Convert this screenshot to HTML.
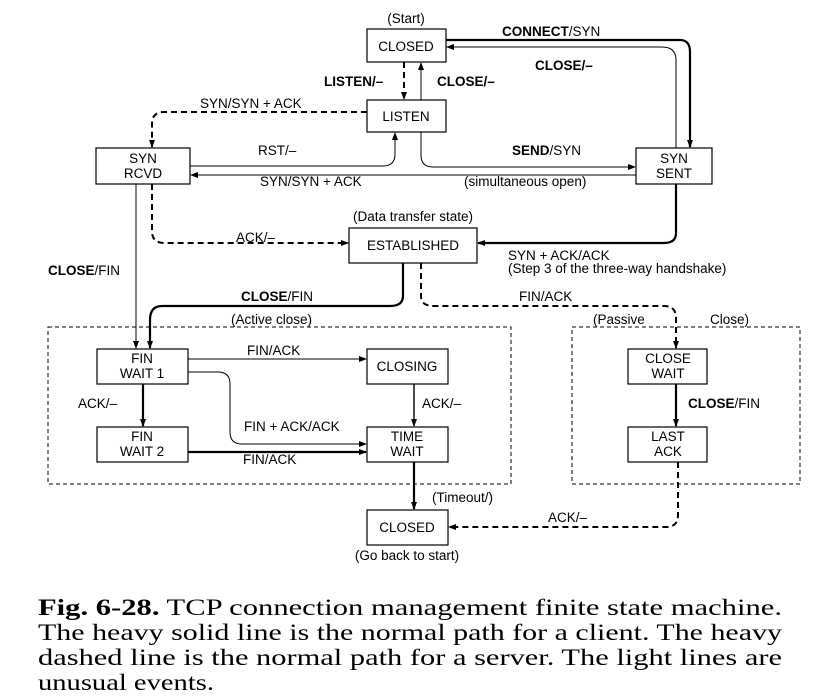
<!DOCTYPE html>
<html><head><meta charset="utf-8"><style>
body{margin:0;background:#fff;}
svg{display:block;}
.s{font-family:"Liberation Sans",sans-serif;font-size:13.5px;fill:#000;}
.b{font-weight:bold;}
.c{font-family:"Liberation Serif",serif;font-size:23px;fill:#000;}
</style></head><body>
<svg width="818" height="697" viewBox="0 0 818 697" xmlns="http://www.w3.org/2000/svg">
<defs>
<marker id="a" markerWidth="8" markerHeight="8" refX="7" refY="4" orient="auto" markerUnits="userSpaceOnUse"><path d="M0,1 L8,4 L0,7 z" fill="#000"/></marker>
</defs>
<g fill="#fff" stroke="#000" stroke-width="1.2">
<rect x="367" y="29" width="79" height="33"/>
<rect x="367" y="100" width="79" height="32"/>
<rect x="96" y="148" width="94" height="36"/>
<rect x="636" y="148" width="76" height="36"/>
<rect x="349" y="228" width="128" height="35"/>
<rect x="97" y="349" width="91" height="35"/>
<rect x="367" y="349" width="81" height="35"/>
<rect x="97" y="427" width="91" height="35"/>
<rect x="367" y="427" width="81" height="35"/>
<rect x="628" y="349" width="79" height="35"/>
<rect x="628" y="427" width="79" height="35"/>
<rect x="367" y="510" width="81" height="35"/>
</g>
<g fill="none" stroke="#000" stroke-width="1" stroke-dasharray="4,3">
<rect x="48" y="327" width="463" height="157"/>
<rect x="572" y="327" width="228" height="157"/>
</g>
<g fill="none" stroke="#000" stroke-width="2.2" marker-end="url(#a)">
<path d="M446,40 H680 Q690,40 690,52 V147"/>
<path d="M676,184 V233 Q676,243 664,243 H478"/>
<path d="M403,263 V296 Q403,306 390,306 H162 Q150,306 150,320 V348"/>
<path d="M143,384 V426"/>
<path d="M188,452 H366"/>
<path d="M414,462 V509"/>
<path d="M676,384 V426"/>
</g>
<g fill="none" stroke="#000" stroke-width="2" stroke-dasharray="6,4" marker-end="url(#a)">
<path d="M404,62 V99"/>
<path d="M367,112 H164 Q152,112 152,124 V147"/>
<path d="M152,184 V231 Q152,243 164,243 H348"/>
<path d="M421,263 V296 Q421,306 434,306 H664 Q676,306 676,318 V348"/>
<path d="M678,462 V515 Q678,527 666,527 H449"/>
</g>
<g fill="none" stroke="#000" stroke-width="1" marker-end="url(#a)">
<path d="M676,148 V60 Q676,47 662,47 H447"/>
<path d="M421,100 V63"/>
<path d="M190,166 H383 Q395,166 395,154 V133"/>
<path d="M421,132 V155 Q421,167 433,167 H635"/>
<path d="M636,175 H191"/>
<path d="M136,184 V348"/>
<path d="M188,359 H366"/>
<path d="M188,372 H218 Q230,372 230,384 V432 Q230,444 242,444 H366"/>
<path d="M414,384 V426" stroke-width="1.4"/>
</g>
<g class="s" text-anchor="middle">
<text x="406" y="23">(Start)</text>
<text x="406" y="51">CLOSED</text>
<text x="406" y="121">LISTEN</text>
<text x="143" y="163">SYN</text><text x="143" y="178">RCVD</text>
<text x="674" y="163">SYN</text><text x="674" y="178">SENT</text>
<text x="413" y="221">(Data transfer state)</text>
<text x="413" y="250">ESTABLISHED</text>
<text x="142" y="363">FIN</text><text x="142" y="378">WAIT 1</text>
<text x="407" y="371">CLOSING</text>
<text x="142" y="441">FIN</text><text x="142" y="456">WAIT 2</text>
<text x="407" y="441">TIME</text><text x="407" y="456">WAIT</text>
<text x="668" y="363">CLOSE</text><text x="668" y="378">WAIT</text>
<text x="668" y="441">LAST</text><text x="668" y="456">ACK</text>
<text x="407" y="532">CLOSED</text>
<text x="407" y="560">(Go back to start)</text>
</g>
<g class="s">
<text x="502" y="36"><tspan class="b">CONNECT</tspan>/SYN</text>
<text x="535" y="70" class="b">CLOSE/–</text>
<text x="324" y="86" class="b">LISTEN/–</text>
<text x="437" y="86" class="b">CLOSE/–</text>
<text x="200" y="108">SYN/SYN + ACK</text>
<text x="258" y="155">RST/–</text>
<text x="512" y="155"><tspan class="b">SEND</tspan>/SYN</text>
<text x="260" y="186">SYN/SYN + ACK</text>
<text x="464" y="186">(simultaneous open)</text>
<text x="236" y="242">ACK/–</text>
<text x="508" y="260">SYN + ACK/ACK</text>
<text x="508" y="273">(Step 3 of the three-way handshake)</text>
<text x="48" y="275"><tspan class="b">CLOSE</tspan>/FIN</text>
<text x="241" y="301"><tspan class="b">CLOSE</tspan>/FIN</text>
<text x="519" y="301">FIN/ACK</text>
<text x="231" y="324">(Active close)</text>
<text x="593" y="324">(Passive</text>
<text x="710" y="324">Close)</text>
<text x="247" y="355">FIN/ACK</text>
<text x="78" y="408">ACK/–</text>
<text x="422" y="408">ACK/–</text>
<text x="688" y="408"><tspan class="b">CLOSE</tspan>/FIN</text>
<text x="244" y="431">FIN + ACK/ACK</text>
<text x="243" y="464">FIN/ACK</text>
<text x="432" y="502">(Timeout/)</text>
<text x="548" y="522">ACK/–</text>
</g>
<g class="c">
<text x="38" y="615" textLength="744" lengthAdjust="spacingAndGlyphs"><tspan font-weight="bold">Fig. 6-28.</tspan> TCP connection management finite state machine.</text>
<text x="38" y="640" textLength="744" lengthAdjust="spacingAndGlyphs">The heavy solid line is the normal path for a client.  The heavy</text>
<text x="38" y="665" textLength="744" lengthAdjust="spacingAndGlyphs">dashed line is the normal path for a server.  The light lines are</text>
<text x="38" y="690" textLength="176" lengthAdjust="spacingAndGlyphs">unusual events.</text>
</g>
</svg>
</body></html>
